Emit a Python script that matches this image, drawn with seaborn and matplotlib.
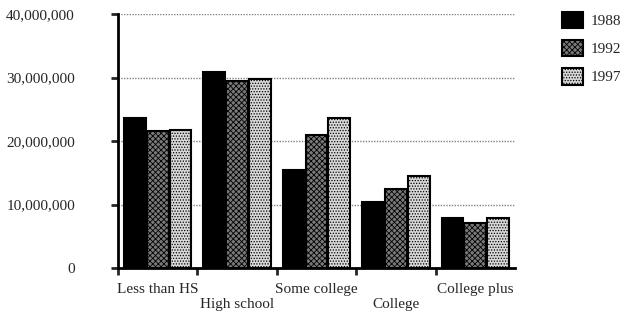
import pandas as pd
import matplotlib
matplotlib.use("Agg")
import matplotlib.pyplot as plt
import seaborn as sns
from matplotlib.patches import Patch
from matplotlib.ticker import FuncFormatter, FixedLocator

categories = ["Less than HS", "High school", "Some college", "College", "College plus"]
years = ["1988", "1992", "1997"]
v1988 = [23.7e6, 30.8e6, 15.4e6, 10.4e6, 7.9e6]
v1992 = [21.5e6, 29.5e6, 20.9e6, 12.5e6, 7.1e6]
v1997 = [21.7e6, 29.7e6, 23.7e6, 14.5e6, 7.8e6]

df = pd.DataFrame({
    "level": categories * 3,
    "year": [y for y in years for _ in categories],
    "value": v1988 + v1992 + v1997,
})

sns.set_style("white")
plt.rcParams["font.family"] = ["Liberation Serif", "DejaVu Serif"]
plt.rcParams["font.size"] = 11
plt.rcParams["hatch.linewidth"] = 0.6

fig = plt.figure(figsize=(6.2, 3.13), dpi=100)
ax = fig.add_axes([118 / 620, 1 - 268 / 313, (515 - 118) / 620, (268 - 14) / 313])

sns.barplot(data=df, x="level", y="value", hue="year", order=categories,
            hue_order=years, width=0.86, gap=0.04, ax=ax, zorder=3,
            palette=["black", "white", "white"], saturation=1, legend=False)

# fill patterns per year
styles = [("black", ""), ("#7a7a7a", "xxxxxx"), ("#d8d8d8", "......")]
for cont, (fc, h) in zip(ax.containers, styles):
    for bar in cont:
        bar.set_facecolor(fc)
        bar.set_edgecolor("black")
        bar.set_linewidth(1.5)
        bar.set_hatch(h)

ax.set_ylim(0, 40e6)
ax.set_xlim(-0.5, 4.5)
ax.set_yticks([0, 10e6, 20e6, 30e6, 40e6])
ax.yaxis.set_major_formatter(FuncFormatter(lambda v, p: f"{int(v):,}"))
ax.tick_params(axis="y", direction="out", length=5, width=2, pad=26, left=True)

ax.xaxis.set_major_locator(FixedLocator([-0.5, 0.5, 1.5, 2.5, 3.5]))
ax.xaxis.set_minor_locator(FixedLocator(range(5)))
ax.set_xticklabels([], minor=False)
ax.set_xticklabels([c if i % 2 == 0 else "\n" + c for i, c in enumerate(categories)],
                   minor=True)
ax.tick_params(axis="x", which="major", direction="out", length=5, width=2, bottom=True)
ax.tick_params(axis="x", which="minor", length=0, pad=11)

ax.set_xlabel("")
ax.set_ylabel("")
for s in ["top", "right"]:
    ax.spines[s].set_visible(False)
for s in ["left", "bottom"]:
    ax.spines[s].set_linewidth(2)
    ax.spines[s].set_color("black")

ax.yaxis.grid(True, color="#808080", linestyle=(0, (1, 1)), linewidth=1, zorder=0)
ax.set_axisbelow(True)

handles = [Patch(facecolor=fc, edgecolor="black", hatch=h, linewidth=1.5)
           for fc, h in styles]
ax.legend(handles, years, loc="upper left", bbox_to_anchor=(554 / 620, 1 - 4 / 313),
          bbox_transform=fig.transFigure, frameon=False, handlelength=1.4,
          handleheight=1.3, labelspacing=0.75, borderpad=0, handletextpad=0.5)

fig.savefig("out.png", dpi=100)
